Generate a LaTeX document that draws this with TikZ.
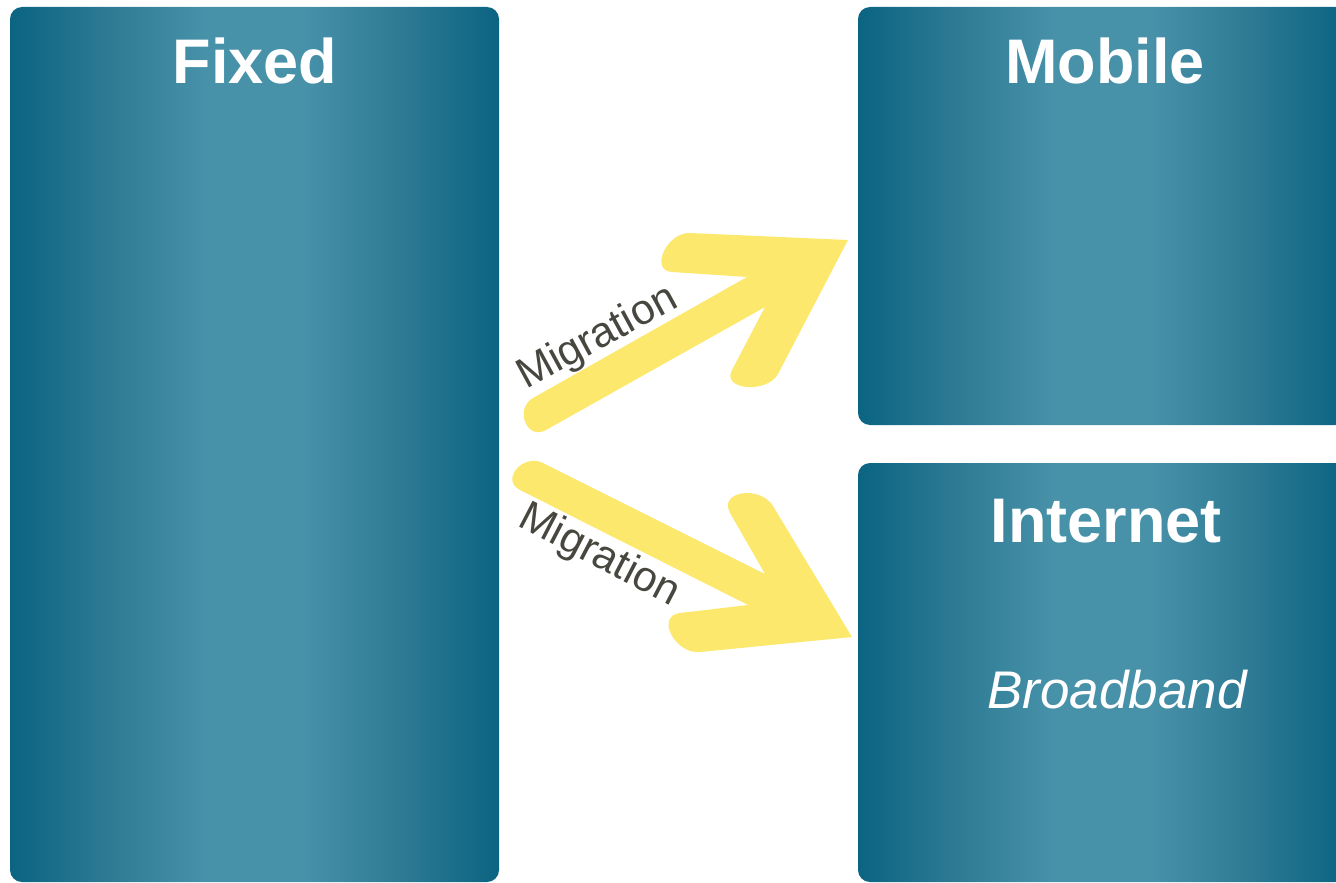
\documentclass[tikz,border=0pt]{standalone}
\usepackage{fontspec}
\setmainfont{Liberation Sans}
\definecolor{boxdark}{HTML}{0A6482}
\definecolor{boxmid}{HTML}{2E7A94}
\definecolor{boxlight}{HTML}{4792A9}
\definecolor{arrowyellow}{HTML}{FDE86E}
\definecolor{labelgray}{HTML}{47463F}
\pgfdeclarehorizontalshading{panelshade}{100bp}{%
  color(0bp)=(boxdark); color(25bp)=(boxdark); color(35bp)=(boxmid);
  color(45bp)=(boxlight); color(55bp)=(boxlight); color(65bp)=(boxmid);
  color(75bp)=(boxdark); color(100bp)=(boxdark)}
\begin{document}
\begin{tikzpicture}[x=1pt,y=-1pt,
  panel/.style={rectangle, rounded corners=12pt, inner sep=0pt, draw=none,
    shading=panelshade},
  title/.style={text=white, font=\fontsize{63}{70}\selectfont\bfseries, anchor=base, inner sep=0pt},
  subtitle/.style={text=white, font=\fontsize{53}{60}\selectfont\itshape, anchor=base, inner sep=0pt},
  miglabel/.style={text=labelgray, font=\fontsize{42.5}{48}\selectfont, anchor=base, inner sep=0pt},
  blockarrow/.style={fill=arrowyellow, draw=none}]
\useasboundingbox (0,0) rectangle (1336,883);
\clip (0,0) rectangle (1336,883);

% panels
\node[panel, minimum width=489pt, minimum height=875pt] (fixed) at (254.5,444.5) {};
\node[panel, minimum width=489pt, minimum height=418pt] (mobile) at (1102.5,216) {};
\node[panel, minimum width=489pt, minimum height=419pt] (internet) at (1102.5,672.5) {};

% titles
\node[title] (fixedT) at (255,83) {Fixed};
\node[title] (mobileT) at (1105,83) {Mobile};
\node[title] (internetT) at (1106,542) {Internet};
\node[subtitle] (broadT) at (1117,708) {Broadband};

% upper migration arrow
\fill[blockarrow] (533,398) -- (747,277) -- (672,272)
  .. controls (649,270.5) and (667,232) .. (690,233)
  -- (848,240) -- (778,374)
  .. controls (767,394) and (721,390) .. (732,370)
  -- (765,307) -- (546,430)
  .. controls (527,441) and (514,409) .. (533,398) -- cycle;

% lower migration arrow
\fill[blockarrow] (543,463) -- (765,574) -- (730,513)
  .. controls (718,491) and (760,485) .. (773,506)
  -- (852,637) -- (700,652)
  .. controls (675,654.5) and (655,616) .. (680,613)
  -- (748,605) -- (520,490)
  .. controls (500,480) and (523,453) .. (543,463) -- cycle;

% labels
\node[miglabel, rotate=28.5] (migup) at (603,348) {Migration};
\node[miglabel, rotate=-27.5] (migdown) at (594,566) {Migration};
\end{tikzpicture}
\end{document}
